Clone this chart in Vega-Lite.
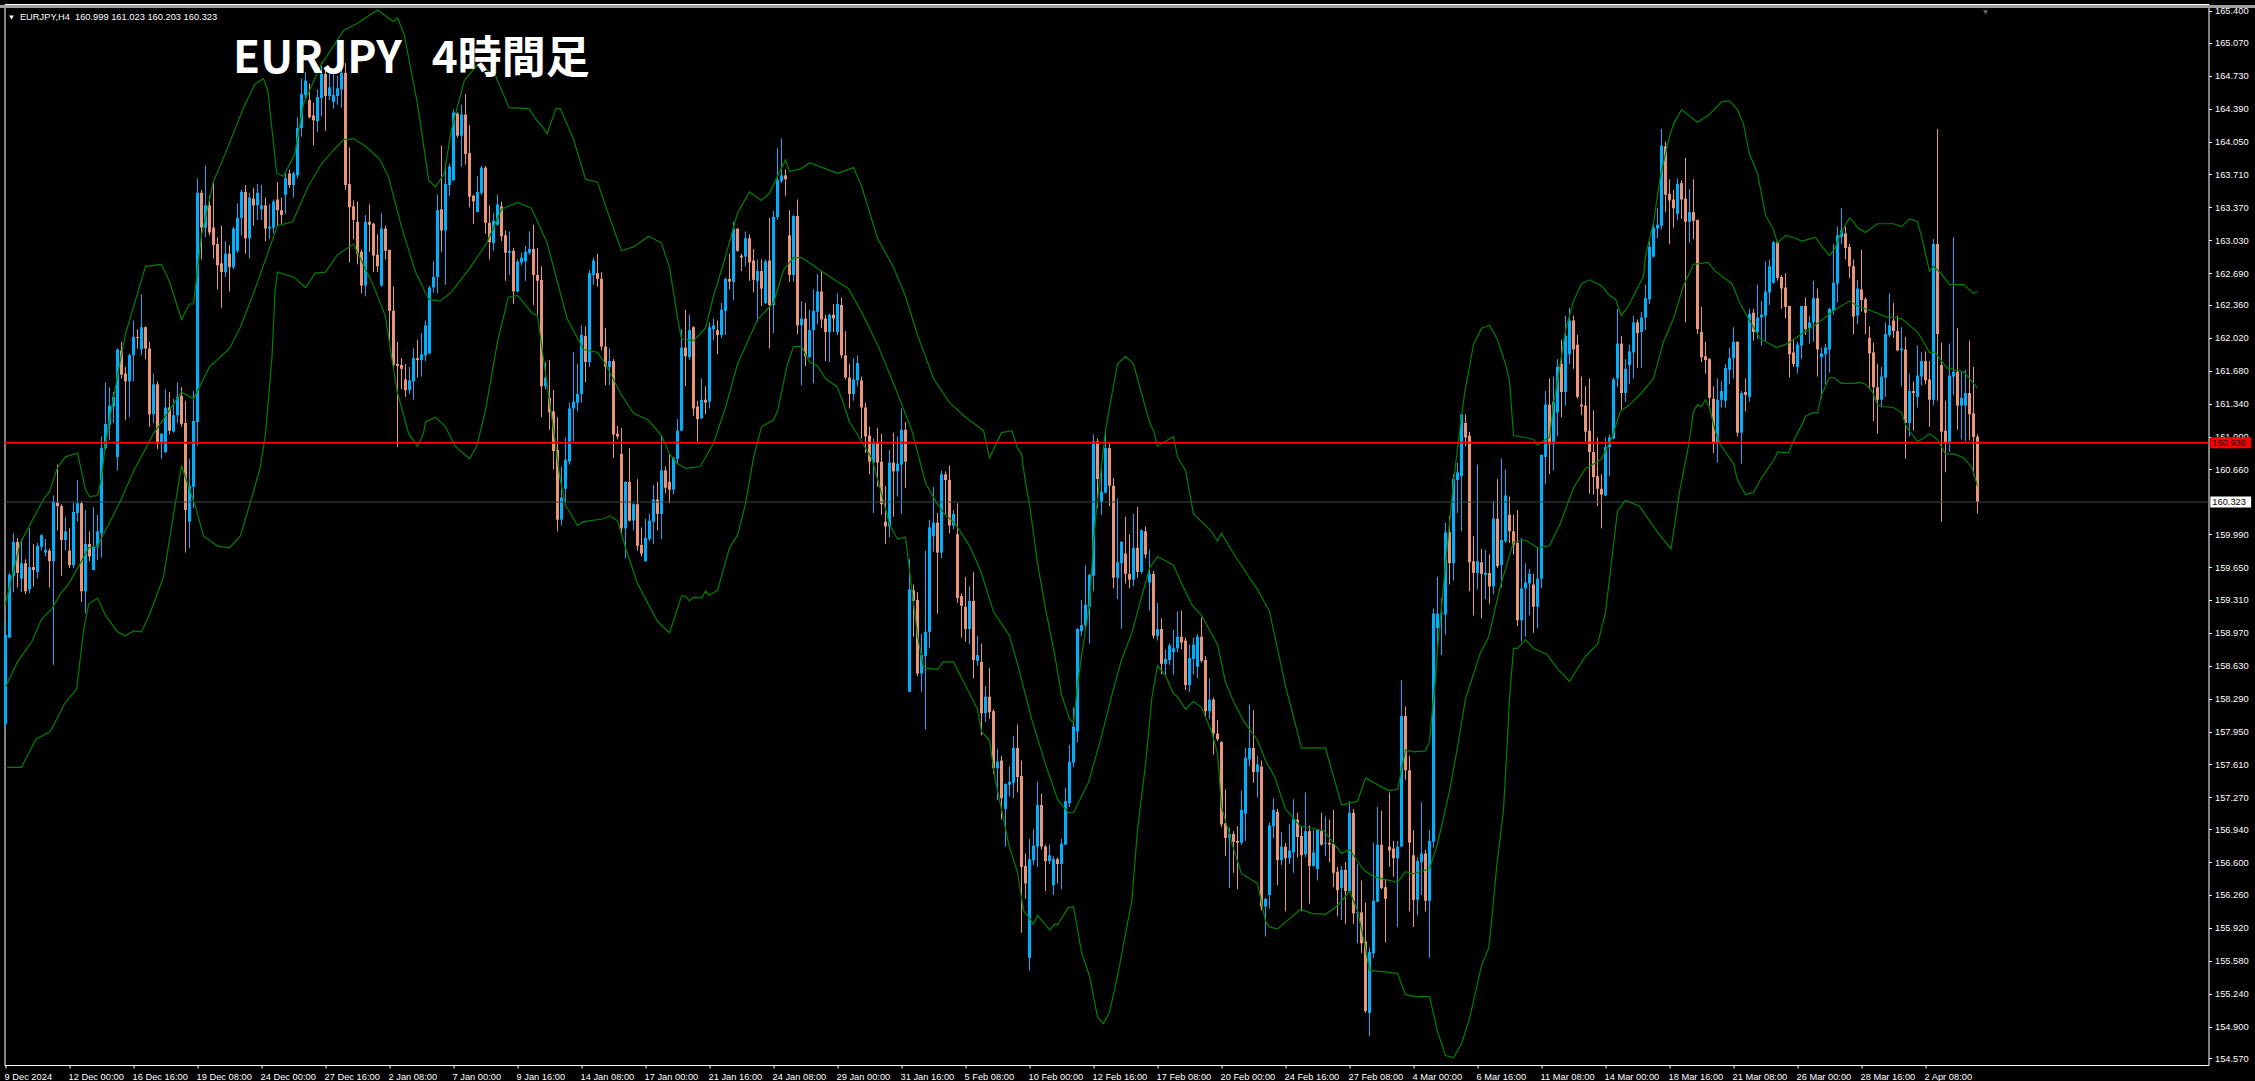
{"$schema":"https://vega.github.io/schema/vega-lite/v6.json","autosize":"none","width":2204,"height":1061,"padding":{"left":4.5,"top":4,"right":46.5,"bottom":16},"background":"#000000","config":{"view":{"stroke":"#ffffff","strokeWidth":1},"axis":{"grid":false,"domain":false,"title":null,"labelColor":"#ffffff","tickColor":"#ffffff","tickSize":3,"labelFont":"Liberation Sans","labelFontSize":9.3,"labelOverlap":false,"labelBound":false,"labelFlush":false}},
"datasets":{"candles":[
{"n":0,"o":158.03,"h":159.09,"l":158.0,"c":158.95},{"n":1,"o":158.92,"h":159.59,"l":158.92,"c":159.57},{"n":2,"o":159.56,"h":160.0,"l":159.39,"c":159.91},{"n":3,"o":159.91,"h":159.95,"l":159.44,"c":159.59},{"n":4,"o":159.53,"h":159.94,"l":159.39,"c":159.69},{"n":5,"o":159.69,"h":159.73,"l":159.37,"c":159.4},{"n":6,"o":159.42,"h":160.05,"l":159.38,"c":159.65},{"n":7,"o":159.65,"h":159.89,"l":159.45,"c":159.62},{"n":8,"o":159.6,"h":159.9,"l":159.53,"c":159.87},{"n":9,"o":159.86,"h":159.99,"l":159.82,"c":159.98},
{"n":10,"o":159.8,"h":159.94,"l":159.76,"c":159.83},{"n":11,"o":159.82,"h":159.84,"l":159.44,"c":159.71},{"n":12,"o":159.71,"h":160.39,"l":158.64,"c":160.33},{"n":13,"o":160.32,"h":160.71,"l":160.03,"c":160.28},{"n":14,"o":160.28,"h":160.3,"l":159.56,"c":159.93},{"n":15,"o":159.93,"h":160.17,"l":159.82,"c":160.02},{"n":16,"o":159.82,"h":160.05,"l":159.64,"c":159.67},{"n":17,"o":159.67,"h":160.32,"l":159.64,"c":160.22},{"n":18,"o":160.21,"h":160.55,"l":160.12,"c":160.31},{"n":19,"o":160.31,"h":160.33,"l":159.29,"c":159.4},
{"n":20,"o":159.4,"h":160.24,"l":159.17,"c":159.89},{"n":21,"o":159.89,"h":160.02,"l":159.71,"c":159.76},{"n":22,"o":159.62,"h":160.27,"l":159.62,"c":159.86},{"n":23,"o":159.86,"h":160.19,"l":159.72,"c":160.02},{"n":24,"o":160.0,"h":161.0,"l":159.75,"c":160.88},{"n":25,"o":160.88,"h":161.56,"l":160.86,"c":161.13},{"n":26,"o":161.12,"h":161.51,"l":160.96,"c":161.32},{"n":27,"o":161.31,"h":161.46,"l":161.14,"c":161.41},{"n":28,"o":160.79,"h":161.91,"l":160.65,"c":161.9},{"n":29,"o":161.89,"h":161.98,"l":161.6,"c":161.64},
{"n":30,"o":161.65,"h":161.72,"l":161.17,"c":161.57},{"n":31,"o":161.57,"h":161.86,"l":161.2,"c":161.84},{"n":32,"o":161.84,"h":162.2,"l":161.57,"c":162.03},{"n":33,"o":162.03,"h":162.11,"l":161.91,"c":162.02},{"n":34,"o":161.9,"h":162.47,"l":161.84,"c":162.13},{"n":35,"o":162.13,"h":162.14,"l":161.8,"c":161.91},{"n":36,"o":161.91,"h":161.98,"l":161.1,"c":161.23},{"n":37,"o":161.23,"h":161.65,"l":161.14,"c":161.54},{"n":38,"o":161.54,"h":161.57,"l":160.87,"c":160.93},{"n":39,"o":160.93,"h":161.03,"l":160.77,"c":161.03},
{"n":40,"o":160.84,"h":161.49,"l":160.83,"c":161.3},{"n":41,"o":161.3,"h":161.46,"l":161.02,"c":161.06},{"n":42,"o":161.05,"h":161.39,"l":161.04,"c":161.22},{"n":43,"o":161.22,"h":161.56,"l":161.14,"c":161.41},{"n":44,"o":161.42,"h":161.51,"l":161.1,"c":161.13},{"n":45,"o":161.14,"h":161.37,"l":159.8,"c":160.24},{"n":46,"o":160.12,"h":160.77,"l":159.85,"c":160.49},{"n":47,"o":160.48,"h":161.47,"l":160.26,"c":161.16},{"n":48,"o":161.15,"h":163.67,"l":160.91,"c":163.52},{"n":49,"o":163.52,"h":163.55,"l":162.83,"c":163.16},
{"n":50,"o":163.16,"h":163.8,"l":163.06,"c":163.39},{"n":51,"o":163.39,"h":163.49,"l":163.08,"c":163.11},{"n":52,"o":163.16,"h":163.63,"l":162.84,"c":162.98},{"n":53,"o":162.99,"h":163.06,"l":162.52,"c":162.77},{"n":54,"o":162.79,"h":163.18,"l":162.33,"c":162.7},{"n":55,"o":162.7,"h":163.02,"l":162.65,"c":162.89},{"n":56,"o":162.89,"h":162.98,"l":162.5,"c":162.75},{"n":57,"o":162.75,"h":163.17,"l":162.73,"c":163.15},{"n":58,"o":162.92,"h":163.41,"l":162.9,"c":163.26},{"n":59,"o":163.26,"h":163.55,"l":163.08,"c":163.53},
{"n":60,"o":163.53,"h":163.6,"l":162.89,"c":163.05},{"n":61,"o":163.05,"h":163.52,"l":162.84,"c":163.47},{"n":62,"o":163.46,"h":163.57,"l":163.18,"c":163.39},{"n":63,"o":163.39,"h":163.61,"l":163.24,"c":163.52},{"n":64,"o":163.35,"h":163.6,"l":163.24,"c":163.39},{"n":65,"o":163.39,"h":163.47,"l":163.02,"c":163.15},{"n":66,"o":163.15,"h":163.4,"l":163.04,"c":163.17},{"n":67,"o":163.16,"h":163.45,"l":163.1,"c":163.43},{"n":68,"o":163.45,"h":163.63,"l":163.17,"c":163.34},{"n":69,"o":163.34,"h":163.47,"l":163.2,"c":163.29},
{"n":70,"o":163.5,"h":163.73,"l":163.3,"c":163.67},{"n":71,"o":163.72,"h":163.76,"l":163.57,"c":163.6},{"n":72,"o":163.6,"h":163.74,"l":163.47,"c":163.72},{"n":73,"o":163.7,"h":164.3,"l":163.67,"c":164.19},{"n":74,"o":164.19,"h":164.7,"l":164.1,"c":164.54},{"n":75,"o":164.53,"h":164.77,"l":164.49,"c":164.68},{"n":76,"o":164.48,"h":164.65,"l":164.29,"c":164.3},{"n":77,"o":164.32,"h":164.45,"l":164.01,"c":164.27},{"n":78,"o":164.26,"h":164.59,"l":164.15,"c":164.51},{"n":79,"o":164.5,"h":164.87,"l":164.31,"c":164.75},
{"n":80,"o":164.75,"h":164.82,"l":164.16,"c":164.52},{"n":81,"o":164.52,"h":164.77,"l":164.48,"c":164.61},{"n":82,"o":164.46,"h":164.75,"l":164.39,"c":164.53},{"n":83,"o":164.52,"h":164.73,"l":164.43,"c":164.6},{"n":84,"o":164.59,"h":164.8,"l":164.4,"c":164.76},{"n":85,"o":164.76,"h":164.86,"l":163.55,"c":163.6},{"n":86,"o":163.61,"h":163.99,"l":162.8,"c":163.37},{"n":87,"o":163.38,"h":163.44,"l":163.04,"c":163.24},{"n":88,"o":163.22,"h":163.43,"l":162.78,"c":162.89},{"n":89,"o":162.91,"h":162.93,"l":162.48,"c":162.56},
{"n":90,"o":162.56,"h":163.29,"l":162.45,"c":163.22},{"n":91,"o":163.22,"h":163.4,"l":162.91,"c":163.19},{"n":92,"o":163.2,"h":163.21,"l":162.7,"c":162.87},{"n":93,"o":162.88,"h":163.09,"l":162.7,"c":162.76},{"n":94,"o":162.56,"h":163.31,"l":162.55,"c":163.15},{"n":95,"o":163.15,"h":163.18,"l":162.83,"c":162.92},{"n":96,"o":162.93,"h":162.93,"l":161.95,"c":162.3},{"n":97,"o":162.3,"h":162.55,"l":161.68,"c":161.74},{"n":98,"o":161.75,"h":161.98,"l":160.89,"c":161.73},{"n":99,"o":161.74,"h":161.81,"l":161.49,"c":161.7},
{"n":100,"o":161.59,"h":161.75,"l":161.41,"c":161.48},{"n":101,"o":161.48,"h":161.72,"l":161.44,"c":161.58},{"n":102,"o":161.57,"h":161.91,"l":161.38,"c":161.81},{"n":103,"o":161.81,"h":162.0,"l":161.61,"c":161.79},{"n":104,"o":161.79,"h":162.07,"l":161.62,"c":161.85},{"n":105,"o":161.84,"h":162.2,"l":161.78,"c":162.15},{"n":106,"o":161.86,"h":162.56,"l":161.85,"c":162.54},{"n":107,"o":162.54,"h":162.81,"l":162.49,"c":162.65},{"n":108,"o":162.65,"h":163.5,"l":162.48,"c":163.34},{"n":109,"o":163.35,"h":164.01,"l":162.91,"c":163.13},
{"n":110,"o":163.13,"h":163.83,"l":162.57,"c":163.61},{"n":111,"o":163.6,"h":163.82,"l":163.49,"c":163.79},{"n":112,"o":163.65,"h":164.38,"l":163.64,"c":164.35},{"n":113,"o":164.34,"h":164.35,"l":164.09,"c":164.11},{"n":114,"o":164.11,"h":164.43,"l":163.79,"c":164.33},{"n":115,"o":164.33,"h":164.54,"l":163.81,"c":163.92},{"n":116,"o":163.93,"h":164.22,"l":163.37,"c":163.48},{"n":117,"o":163.49,"h":163.5,"l":163.2,"c":163.43},{"n":118,"o":163.32,"h":163.69,"l":163.32,"c":163.53},{"n":119,"o":163.52,"h":163.8,"l":163.5,"c":163.78},
{"n":120,"o":163.78,"h":163.8,"l":163.1,"c":163.21},{"n":121,"o":163.21,"h":163.39,"l":162.83,"c":163.01},{"n":122,"o":163.0,"h":163.31,"l":162.92,"c":163.23},{"n":123,"o":163.19,"h":163.5,"l":163.18,"c":163.4},{"n":124,"o":163.38,"h":163.43,"l":163.02,"c":163.07},{"n":125,"o":163.08,"h":163.13,"l":162.61,"c":162.9},{"n":126,"o":162.9,"h":163.12,"l":162.67,"c":162.92},{"n":127,"o":162.92,"h":162.95,"l":162.37,"c":162.5},{"n":128,"o":162.5,"h":162.83,"l":162.49,"c":162.81},{"n":129,"o":162.8,"h":162.9,"l":162.77,"c":162.85},
{"n":130,"o":162.81,"h":162.97,"l":162.61,"c":162.91},{"n":131,"o":162.9,"h":163.12,"l":162.88,"c":162.94},{"n":132,"o":162.94,"h":163.19,"l":162.36,"c":162.67},{"n":133,"o":162.67,"h":162.95,"l":162.26,"c":162.61},{"n":134,"o":162.62,"h":162.76,"l":161.2,"c":161.52},{"n":135,"o":161.52,"h":161.77,"l":161.49,"c":161.61},{"n":136,"o":161.4,"h":161.79,"l":161.07,"c":161.25},{"n":137,"o":161.26,"h":161.48,"l":160.66,"c":160.85},{"n":138,"o":160.86,"h":161.2,"l":160.02,"c":160.14},{"n":139,"o":160.14,"h":160.69,"l":160.08,"c":160.37},
{"n":140,"o":160.46,"h":160.99,"l":160.32,"c":160.76},{"n":141,"o":160.74,"h":161.35,"l":160.71,"c":161.29},{"n":142,"o":161.29,"h":161.87,"l":160.95,"c":161.36},{"n":143,"o":161.35,"h":161.75,"l":161.26,"c":161.44},{"n":144,"o":161.44,"h":162.15,"l":161.35,"c":162.05},{"n":145,"o":162.04,"h":162.14,"l":161.56,"c":161.77},{"n":146,"o":161.77,"h":162.72,"l":161.72,"c":162.69},{"n":147,"o":162.67,"h":162.85,"l":162.57,"c":162.82},{"n":148,"o":162.69,"h":162.89,"l":162.55,"c":162.63},{"n":149,"o":162.63,"h":162.7,"l":161.89,"c":161.93},
{"n":150,"o":161.93,"h":162.12,"l":161.53,"c":161.72},{"n":151,"o":161.72,"h":161.91,"l":161.53,"c":161.78},{"n":152,"o":161.78,"h":161.8,"l":160.78,"c":161.02},{"n":153,"o":161.03,"h":161.11,"l":160.97,"c":161.0},{"n":154,"o":160.82,"h":161.09,"l":159.99,"c":160.05},{"n":155,"o":160.05,"h":160.54,"l":159.74,"c":160.53},{"n":156,"o":160.53,"h":160.88,"l":160.12,"c":160.13},{"n":157,"o":160.13,"h":160.31,"l":160.03,"c":160.3},{"n":158,"o":160.3,"h":160.56,"l":159.82,"c":159.87},{"n":159,"o":159.88,"h":160.06,"l":159.76,"c":159.79},
{"n":160,"o":159.71,"h":160.15,"l":159.71,"c":159.95},{"n":161,"o":159.94,"h":160.2,"l":159.92,"c":160.13},{"n":162,"o":160.12,"h":160.5,"l":159.89,"c":160.35},{"n":163,"o":160.35,"h":160.53,"l":160.03,"c":160.2},{"n":164,"o":160.2,"h":161.01,"l":159.94,"c":160.65},{"n":165,"o":160.65,"h":160.69,"l":160.41,"c":160.47},{"n":166,"o":160.53,"h":160.82,"l":160.31,"c":160.45},{"n":167,"o":160.45,"h":160.79,"l":160.4,"c":160.78},{"n":168,"o":160.77,"h":161.18,"l":160.71,"c":161.06},{"n":169,"o":161.06,"h":162.11,"l":161.06,"c":161.92},
{"n":170,"o":161.92,"h":162.31,"l":161.52,"c":161.83},{"n":171,"o":161.82,"h":162.26,"l":161.79,"c":162.1},{"n":172,"o":162.13,"h":162.14,"l":161.21,"c":161.29},{"n":173,"o":161.31,"h":161.37,"l":160.95,"c":161.18},{"n":174,"o":161.19,"h":161.6,"l":161.18,"c":161.38},{"n":175,"o":161.38,"h":161.52,"l":161.23,"c":161.35},{"n":176,"o":161.36,"h":162.18,"l":161.29,"c":162.13},{"n":177,"o":162.11,"h":162.22,"l":162.0,"c":162.15},{"n":178,"o":162.1,"h":162.2,"l":161.85,"c":162.05},{"n":179,"o":162.05,"h":162.38,"l":162.02,"c":162.31},
{"n":180,"o":162.3,"h":162.64,"l":162.05,"c":162.63},{"n":181,"o":162.63,"h":162.89,"l":162.52,"c":162.6},{"n":182,"o":162.6,"h":163.22,"l":162.41,"c":163.15},{"n":183,"o":163.15,"h":163.15,"l":162.91,"c":162.92},{"n":184,"o":162.87,"h":162.89,"l":162.71,"c":162.85},{"n":185,"o":162.86,"h":163.12,"l":162.76,"c":163.05},{"n":186,"o":163.05,"h":163.09,"l":162.61,"c":162.8},{"n":187,"o":162.82,"h":162.94,"l":162.49,"c":162.62},{"n":188,"o":162.61,"h":162.83,"l":162.19,"c":162.71},{"n":189,"o":162.71,"h":162.83,"l":162.35,"c":162.53},
{"n":190,"o":162.38,"h":162.83,"l":162.37,"c":162.81},{"n":191,"o":162.82,"h":163.26,"l":161.91,"c":162.36},{"n":192,"o":162.36,"h":163.33,"l":162.07,"c":163.27},{"n":193,"o":163.27,"h":163.98,"l":163.24,"c":163.65},{"n":194,"o":163.64,"h":164.08,"l":163.62,"c":163.7},{"n":195,"o":163.7,"h":163.76,"l":163.49,"c":163.66},{"n":196,"o":163.08,"h":163.34,"l":162.6,"c":162.67},{"n":197,"o":162.67,"h":163.29,"l":162.6,"c":163.28},{"n":198,"o":163.28,"h":163.45,"l":162.06,"c":162.15},{"n":199,"o":162.15,"h":162.4,"l":161.53,"c":162.22},
{"n":200,"o":162.22,"h":162.38,"l":161.73,"c":161.83},{"n":201,"o":161.82,"h":162.31,"l":161.81,"c":162.1},{"n":202,"o":162.1,"h":162.52,"l":161.55,"c":162.3},{"n":203,"o":162.29,"h":162.68,"l":162.16,"c":162.5},{"n":204,"o":162.5,"h":162.71,"l":162.12,"c":162.21},{"n":205,"o":162.22,"h":162.26,"l":161.78,"c":162.08},{"n":206,"o":162.08,"h":162.27,"l":161.77,"c":162.26},{"n":207,"o":162.26,"h":162.37,"l":162.08,"c":162.22},{"n":208,"o":162.08,"h":162.48,"l":162.05,"c":162.37},{"n":209,"o":162.36,"h":162.44,"l":161.81,"c":161.84},
{"n":210,"o":161.84,"h":162.09,"l":161.59,"c":161.61},{"n":211,"o":161.61,"h":161.75,"l":161.29,"c":161.44},{"n":212,"o":161.44,"h":161.81,"l":161.37,"c":161.59},{"n":213,"o":161.58,"h":161.84,"l":161.52,"c":161.76},{"n":214,"o":161.58,"h":161.62,"l":160.98,"c":161.3},{"n":215,"o":161.3,"h":161.35,"l":160.83,"c":161.0},{"n":216,"o":161.01,"h":161.1,"l":160.61,"c":160.74},{"n":217,"o":160.73,"h":160.98,"l":160.21,"c":160.93},{"n":218,"o":160.93,"h":161.09,"l":160.48,"c":160.73},{"n":219,"o":160.74,"h":161.03,"l":160.19,"c":160.3},
{"n":220,"o":160.12,"h":160.49,"l":159.89,"c":160.07},{"n":221,"o":160.07,"h":160.86,"l":159.96,"c":160.73},{"n":222,"o":160.73,"h":161.04,"l":160.17,"c":160.64},{"n":223,"o":160.64,"h":161.0,"l":160.38,"c":160.72},{"n":224,"o":160.71,"h":161.29,"l":160.2,"c":161.07},{"n":225,"o":161.07,"h":161.15,"l":160.47,"c":160.74},{"n":226,"o":158.36,"h":159.73,"l":158.36,"c":159.42},{"n":227,"o":159.41,"h":159.47,"l":158.93,"c":159.3},{"n":228,"o":159.31,"h":159.39,"l":158.52,"c":158.55},{"n":229,"o":158.55,"h":158.96,"l":158.36,"c":158.74},
{"n":230,"o":158.73,"h":159.82,"l":157.97,"c":158.98},{"n":231,"o":158.98,"h":160.14,"l":158.81,"c":160.06},{"n":232,"o":159.97,"h":160.48,"l":159.81,"c":160.11},{"n":233,"o":160.11,"h":160.21,"l":159.17,"c":159.8},{"n":234,"o":159.8,"h":160.65,"l":159.74,"c":160.61},{"n":235,"o":160.61,"h":160.64,"l":160.2,"c":160.55},{"n":236,"o":160.55,"h":160.7,"l":160.0,"c":160.08},{"n":237,"o":160.08,"h":160.24,"l":160.04,"c":160.2},{"n":238,"o":159.99,"h":160.31,"l":159.28,"c":159.33},{"n":239,"o":159.35,"h":159.38,"l":158.92,"c":159.25},
{"n":240,"o":159.24,"h":159.55,"l":158.88,"c":159.01},{"n":241,"o":159.01,"h":159.45,"l":158.85,"c":159.3},{"n":242,"o":159.3,"h":159.6,"l":158.5,"c":158.69},{"n":243,"o":158.68,"h":158.94,"l":158.63,"c":158.74},{"n":244,"o":158.67,"h":158.86,"l":157.91,"c":158.14},{"n":245,"o":158.14,"h":158.42,"l":158.05,"c":158.31},{"n":246,"o":158.31,"h":158.61,"l":158.08,"c":158.15},{"n":247,"o":158.16,"h":158.18,"l":157.51,"c":157.57},{"n":248,"o":157.57,"h":157.77,"l":157.24,"c":157.64},{"n":249,"o":157.65,"h":157.7,"l":157.04,"c":157.26},
{"n":250,"o":157.15,"h":157.41,"l":156.76,"c":157.41},{"n":251,"o":157.4,"h":157.59,"l":157.28,"c":157.43},{"n":252,"o":157.42,"h":157.9,"l":157.26,"c":157.78},{"n":253,"o":157.78,"h":158.02,"l":157.32,"c":157.48},{"n":254,"o":157.49,"h":157.65,"l":155.87,"c":156.55},{"n":255,"o":156.56,"h":156.69,"l":156.22,"c":156.38},{"n":256,"o":155.61,"h":156.84,"l":155.48,"c":156.63},{"n":257,"o":156.62,"h":156.94,"l":156.57,"c":156.77},{"n":258,"o":156.76,"h":157.43,"l":156.55,"c":157.19},{"n":259,"o":157.19,"h":157.31,"l":156.73,"c":156.76},
{"n":260,"o":156.76,"h":156.78,"l":156.3,"c":156.61},{"n":261,"o":156.61,"h":156.78,"l":156.58,"c":156.67},{"n":262,"o":156.36,"h":156.66,"l":156.26,"c":156.63},{"n":263,"o":156.63,"h":156.65,"l":156.38,"c":156.58},{"n":264,"o":156.58,"h":156.84,"l":156.32,"c":156.79},{"n":265,"o":156.78,"h":157.37,"l":156.78,"c":157.23},{"n":266,"o":157.21,"h":157.81,"l":157.17,"c":157.64},{"n":267,"o":157.63,"h":158.2,"l":157.58,"c":158.0},{"n":268,"o":157.95,"h":159.02,"l":157.84,"c":159.01},{"n":269,"o":158.99,"h":159.31,"l":158.94,"c":159.05},
{"n":270,"o":159.05,"h":159.67,"l":159.0,"c":159.26},{"n":271,"o":159.24,"h":159.58,"l":158.86,"c":159.57},{"n":272,"o":159.56,"h":161.02,"l":159.4,"c":160.95},{"n":273,"o":160.95,"h":160.98,"l":160.26,"c":160.56},{"n":274,"o":160.32,"h":160.68,"l":160.19,"c":160.43},{"n":275,"o":160.42,"h":161.06,"l":160.41,"c":160.88},{"n":276,"o":160.88,"h":160.93,"l":160.28,"c":160.49},{"n":277,"o":160.49,"h":160.57,"l":159.43,"c":159.54},{"n":278,"o":159.54,"h":160.36,"l":159.32,"c":159.7},{"n":279,"o":159.69,"h":159.92,"l":159.01,"c":159.91},
{"n":280,"o":159.79,"h":160.17,"l":159.48,"c":159.58},{"n":281,"o":159.58,"h":159.99,"l":159.43,"c":159.52},{"n":282,"o":159.52,"h":160.2,"l":159.45,"c":159.85},{"n":283,"o":159.85,"h":160.27,"l":159.54,"c":159.6},{"n":284,"o":159.6,"h":160.04,"l":159.58,"c":160.03},{"n":285,"o":160.02,"h":160.07,"l":159.74,"c":159.78},{"n":286,"o":159.49,"h":159.83,"l":159.2,"c":159.58},{"n":287,"o":159.58,"h":159.61,"l":158.91,"c":158.94},{"n":288,"o":158.94,"h":159.28,"l":158.89,"c":159.01},{"n":289,"o":159.01,"h":159.12,"l":158.54,"c":158.65},
{"n":290,"o":158.65,"h":158.8,"l":158.53,"c":158.7},{"n":291,"o":158.69,"h":158.86,"l":158.64,"c":158.84},{"n":292,"o":158.77,"h":159.0,"l":158.54,"c":158.81},{"n":293,"o":158.81,"h":159.19,"l":158.77,"c":158.93},{"n":294,"o":158.93,"h":159.2,"l":158.8,"c":158.87},{"n":295,"o":158.89,"h":158.92,"l":158.38,"c":158.43},{"n":296,"o":158.43,"h":158.85,"l":158.36,"c":158.71},{"n":297,"o":158.7,"h":158.92,"l":158.54,"c":158.85},{"n":298,"o":158.62,"h":158.96,"l":158.5,"c":158.93},{"n":299,"o":158.93,"h":159.13,"l":158.66,"c":158.68},
{"n":300,"o":158.69,"h":158.73,"l":158.11,"c":158.16},{"n":301,"o":158.16,"h":158.5,"l":158.08,"c":158.28},{"n":302,"o":158.28,"h":158.3,"l":157.71,"c":157.93},{"n":303,"o":157.93,"h":158.07,"l":157.85,"c":157.87},{"n":304,"o":157.84,"h":157.85,"l":156.96,"c":156.99},{"n":305,"o":157.0,"h":157.35,"l":156.66,"c":156.85},{"n":306,"o":156.85,"h":156.96,"l":156.33,"c":156.89},{"n":307,"o":156.89,"h":156.92,"l":156.49,"c":156.81},{"n":308,"o":156.82,"h":156.97,"l":156.32,"c":156.8},{"n":309,"o":156.8,"h":157.34,"l":156.78,"c":157.14},
{"n":310,"o":157.1,"h":157.78,"l":156.82,"c":157.68},{"n":311,"o":157.66,"h":158.23,"l":157.59,"c":157.78},{"n":312,"o":157.78,"h":158.17,"l":157.42,"c":157.53},{"n":313,"o":157.53,"h":157.7,"l":157.27,"c":157.61},{"n":314,"o":157.59,"h":157.65,"l":156.1,"c":156.14},{"n":315,"o":156.14,"h":156.23,"l":155.83,"c":156.22},{"n":316,"o":156.26,"h":157.01,"l":156.12,"c":156.98},{"n":317,"o":156.97,"h":157.26,"l":156.85,"c":157.14},{"n":318,"o":157.12,"h":157.15,"l":156.36,"c":156.62},{"n":319,"o":156.62,"h":156.91,"l":156.57,"c":156.76},
{"n":320,"o":156.76,"h":156.8,"l":156.09,"c":156.64},{"n":321,"o":156.64,"h":156.99,"l":156.58,"c":156.72},{"n":322,"o":156.7,"h":157.25,"l":156.49,"c":157.05},{"n":323,"o":157.04,"h":157.11,"l":156.65,"c":156.86},{"n":324,"o":156.87,"h":156.97,"l":156.09,"c":156.67},{"n":325,"o":156.68,"h":157.32,"l":156.65,"c":156.92},{"n":326,"o":156.92,"h":156.98,"l":156.17,"c":156.56},{"n":327,"o":156.56,"h":156.93,"l":156.55,"c":156.7},{"n":328,"o":156.53,"h":156.94,"l":156.41,"c":156.93},{"n":329,"o":156.92,"h":157.11,"l":156.77,"c":156.78},
{"n":330,"o":156.79,"h":157.07,"l":156.66,"c":156.8},{"n":331,"o":156.8,"h":157.04,"l":156.6,"c":156.78},{"n":332,"o":156.79,"h":157.14,"l":156.34,"c":156.49},{"n":333,"o":156.5,"h":156.55,"l":156.04,"c":156.31},{"n":334,"o":156.33,"h":156.56,"l":156.0,"c":156.52},{"n":335,"o":156.52,"h":156.6,"l":155.96,"c":156.3},{"n":336,"o":156.3,"h":157.23,"l":156.3,"c":157.11},{"n":337,"o":157.11,"h":157.15,"l":155.96,"c":156.07},{"n":338,"o":156.07,"h":156.58,"l":155.76,"c":156.08},{"n":339,"o":156.08,"h":156.41,"l":155.66,"c":155.76},
{"n":340,"o":155.78,"h":156.18,"l":155.04,"c":155.06},{"n":341,"o":155.04,"h":155.72,"l":154.8,"c":155.67},{"n":342,"o":155.66,"h":156.8,"l":155.61,"c":156.2},{"n":343,"o":156.19,"h":157.17,"l":156.19,"c":156.78},{"n":344,"o":156.78,"h":157.13,"l":156.32,"c":156.33},{"n":345,"o":156.34,"h":156.42,"l":155.77,"c":156.22},{"n":346,"o":156.76,"h":157.32,"l":156.55,"c":156.72},{"n":347,"o":156.74,"h":156.82,"l":156.45,"c":156.64},{"n":348,"o":156.64,"h":156.82,"l":155.93,"c":156.76},{"n":349,"o":156.76,"h":158.48,"l":156.76,"c":158.11},
{"n":350,"o":158.11,"h":158.21,"l":157.45,"c":157.55},{"n":351,"o":157.55,"h":157.7,"l":156.09,"c":156.8},{"n":352,"o":156.67,"h":156.93,"l":155.93,"c":156.21},{"n":353,"o":156.21,"h":156.65,"l":156.05,"c":156.61},{"n":354,"o":156.6,"h":157.22,"l":156.26,"c":156.69},{"n":355,"o":156.69,"h":156.73,"l":156.09,"c":156.2},{"n":356,"o":156.2,"h":156.93,"l":155.61,"c":156.82},{"n":357,"o":156.81,"h":159.22,"l":156.75,"c":159.17},{"n":358,"o":159.02,"h":159.55,"l":158.78,"c":159.17},{"n":359,"o":159.16,"h":159.33,"l":158.74,"c":159.17},
{"n":360,"o":159.16,"h":160.11,"l":158.95,"c":160.01},{"n":361,"o":160.01,"h":160.18,"l":159.47,"c":159.69},{"n":362,"o":159.69,"h":160.61,"l":159.51,"c":160.56},{"n":363,"o":160.55,"h":160.73,"l":160.21,"c":160.63},{"n":364,"o":160.59,"h":161.23,"l":160.02,"c":161.23},{"n":365,"o":161.14,"h":161.23,"l":160.9,"c":160.99},{"n":366,"o":161.01,"h":161.05,"l":159.4,"c":159.7},{"n":367,"o":159.71,"h":159.97,"l":159.15,"c":159.59},{"n":368,"o":159.59,"h":160.71,"l":159.42,"c":159.71},{"n":369,"o":159.7,"h":159.84,"l":159.12,"c":159.58},
{"n":370,"o":159.57,"h":159.83,"l":159.32,"c":159.59},{"n":371,"o":159.59,"h":159.78,"l":159.27,"c":159.45},{"n":372,"o":159.45,"h":160.33,"l":159.37,"c":160.15},{"n":373,"o":160.15,"h":160.56,"l":159.64,"c":159.66},{"n":374,"o":159.67,"h":160.77,"l":159.44,"c":159.93},{"n":375,"o":159.92,"h":160.66,"l":159.9,"c":160.39},{"n":376,"o":160.19,"h":160.38,"l":159.9,"c":160.02},{"n":377,"o":160.02,"h":160.19,"l":159.78,"c":159.88},{"n":378,"o":159.9,"h":160.24,"l":159.04,"c":159.1},{"n":379,"o":159.1,"h":159.95,"l":158.88,"c":159.43},
{"n":380,"o":159.43,"h":159.69,"l":158.93,"c":159.49},{"n":381,"o":159.48,"h":159.63,"l":159.15,"c":159.58},{"n":382,"o":159.47,"h":159.58,"l":158.97,"c":159.24},{"n":383,"o":159.24,"h":159.85,"l":159.02,"c":159.53},{"n":384,"o":159.53,"h":160.81,"l":159.43,"c":160.81},{"n":385,"o":160.79,"h":161.47,"l":160.51,"c":161.33},{"n":386,"o":161.33,"h":161.6,"l":160.61,"c":160.92},{"n":387,"o":160.92,"h":161.62,"l":160.65,"c":161.36},{"n":388,"o":161.25,"h":161.8,"l":161.0,"c":161.72},{"n":389,"o":161.75,"h":162.0,"l":161.2,"c":161.46},
{"n":390,"o":161.46,"h":162.25,"l":161.32,"c":162.04},{"n":391,"o":161.85,"h":162.33,"l":161.75,"c":162.2},{"n":392,"o":162.2,"h":162.25,"l":161.7,"c":161.9},{"n":393,"o":161.95,"h":162.05,"l":161.39,"c":161.41},{"n":394,"o":161.33,"h":161.62,"l":161.22,"c":161.31},{"n":395,"o":161.32,"h":161.52,"l":160.95,"c":161.05},{"n":396,"o":161.06,"h":161.6,"l":160.41,"c":160.84},{"n":397,"o":160.84,"h":161.27,"l":160.4,"c":160.58},{"n":398,"o":160.59,"h":160.99,"l":160.28,"c":160.46},{"n":399,"o":160.46,"h":160.61,"l":160.05,"c":160.4},
{"n":400,"o":160.39,"h":160.99,"l":160.38,"c":160.89},{"n":401,"o":160.89,"h":161.02,"l":160.59,"c":160.99},{"n":402,"o":160.98,"h":161.61,"l":160.97,"c":161.59},{"n":403,"o":161.6,"h":162.32,"l":161.51,"c":161.96},{"n":404,"o":161.96,"h":162.04,"l":161.28,"c":161.45},{"n":405,"o":161.45,"h":161.8,"l":161.36,"c":161.7},{"n":406,"o":161.74,"h":161.95,"l":161.54,"c":161.88},{"n":407,"o":161.87,"h":162.25,"l":161.6,"c":162.18},{"n":408,"o":162.18,"h":162.21,"l":161.71,"c":162.07},{"n":409,"o":162.08,"h":162.29,"l":161.71,"c":162.23},
{"n":410,"o":162.23,"h":162.57,"l":162.1,"c":162.43},{"n":411,"o":162.42,"h":163.04,"l":162.37,"c":162.96},{"n":412,"o":162.86,"h":163.21,"l":162.85,"c":163.16},{"n":413,"o":163.15,"h":163.36,"l":163.05,"c":163.19},{"n":414,"o":163.18,"h":164.18,"l":163.14,"c":164.01},{"n":415,"o":164.0,"h":164.05,"l":163.32,"c":163.5},{"n":416,"o":163.51,"h":163.66,"l":162.99,"c":163.44},{"n":417,"o":163.45,"h":163.55,"l":163.16,"c":163.36},{"n":418,"o":163.3,"h":163.67,"l":163.24,"c":163.61},{"n":419,"o":163.62,"h":163.65,"l":163.25,"c":163.45},
{"n":420,"o":163.46,"h":163.88,"l":162.18,"c":163.22},{"n":421,"o":163.22,"h":163.56,"l":163.0,"c":163.32},{"n":422,"o":163.32,"h":163.66,"l":163.04,"c":163.23},{"n":423,"o":163.24,"h":163.24,"l":162.06,"c":162.11},{"n":424,"o":162.08,"h":162.34,"l":161.77,"c":161.82},{"n":425,"o":161.83,"h":161.98,"l":161.65,"c":161.79},{"n":426,"o":161.8,"h":161.81,"l":161.32,"c":161.4},{"n":427,"o":161.39,"h":161.52,"l":160.83,"c":160.94},{"n":428,"o":160.93,"h":161.6,"l":160.73,"c":161.38},{"n":429,"o":161.38,"h":161.57,"l":161.3,"c":161.47},
{"n":430,"o":161.37,"h":161.75,"l":161.3,"c":161.71},{"n":431,"o":161.69,"h":161.92,"l":161.54,"c":161.81},{"n":432,"o":161.81,"h":162.13,"l":161.6,"c":161.98},{"n":433,"o":161.98,"h":161.98,"l":161.0,"c":161.04},{"n":434,"o":161.04,"h":161.47,"l":160.72,"c":161.45},{"n":435,"o":161.46,"h":161.6,"l":161.26,"c":161.43},{"n":436,"o":161.41,"h":162.32,"l":161.36,"c":162.27},{"n":437,"o":162.28,"h":162.32,"l":161.99,"c":162.08},{"n":438,"o":162.08,"h":162.57,"l":162.01,"c":162.23},{"n":439,"o":162.23,"h":162.4,"l":161.94,"c":162.26},
{"n":440,"o":162.25,"h":162.81,"l":161.99,"c":162.5},{"n":441,"o":162.49,"h":162.83,"l":162.36,"c":162.76},{"n":442,"o":162.59,"h":163.02,"l":162.58,"c":163.01},{"n":443,"o":163.01,"h":163.02,"l":162.61,"c":162.64},{"n":444,"o":162.65,"h":162.67,"l":162.32,"c":162.53},{"n":445,"o":162.54,"h":162.69,"l":162.22,"c":162.34},{"n":446,"o":162.35,"h":162.35,"l":161.61,"c":161.85},{"n":447,"o":161.87,"h":162.01,"l":161.72,"c":161.75},{"n":448,"o":161.72,"h":161.98,"l":161.65,"c":161.95},{"n":449,"o":161.94,"h":162.35,"l":161.8,"c":162.35},
{"n":450,"o":162.35,"h":162.44,"l":162.05,"c":162.11},{"n":451,"o":162.12,"h":162.25,"l":161.96,"c":162.18},{"n":452,"o":162.18,"h":162.61,"l":161.98,"c":162.43},{"n":453,"o":162.43,"h":162.53,"l":161.62,"c":161.9},{"n":454,"o":161.82,"h":161.92,"l":161.4,"c":161.86},{"n":455,"o":161.85,"h":161.96,"l":161.54,"c":161.92},{"n":456,"o":161.9,"h":162.33,"l":161.66,"c":162.32},{"n":457,"o":162.3,"h":162.99,"l":162.26,"c":162.59},{"n":458,"o":162.58,"h":163.17,"l":162.39,"c":163.08},{"n":459,"o":163.06,"h":163.36,"l":162.99,"c":163.13},
{"n":460,"o":163.1,"h":163.17,"l":162.83,"c":162.95},{"n":461,"o":162.96,"h":162.99,"l":162.64,"c":162.76},{"n":462,"o":162.76,"h":162.83,"l":162.06,"c":162.24},{"n":463,"o":162.25,"h":162.62,"l":162.16,"c":162.53},{"n":464,"o":162.52,"h":162.93,"l":162.29,"c":162.41},{"n":465,"o":162.42,"h":162.44,"l":162.06,"c":162.28},{"n":466,"o":162.02,"h":162.14,"l":161.5,"c":161.86},{"n":467,"o":161.87,"h":161.97,"l":161.16,"c":161.51},{"n":468,"o":161.51,"h":161.75,"l":161.03,"c":161.38},{"n":469,"o":161.38,"h":161.72,"l":161.3,"c":161.62},
{"n":470,"o":161.61,"h":162.18,"l":161.41,"c":162.06},{"n":471,"o":162.05,"h":162.48,"l":162.03,"c":162.15},{"n":472,"o":162.2,"h":162.38,"l":162.02,"c":162.09},{"n":473,"o":162.09,"h":162.25,"l":161.88,"c":161.89},{"n":474,"o":161.89,"h":162.13,"l":161.52,"c":161.91},{"n":475,"o":161.9,"h":162.03,"l":160.77,"c":161.14},{"n":476,"o":161.14,"h":161.65,"l":161.0,"c":161.47},{"n":477,"o":161.47,"h":161.57,"l":161.06,"c":161.45},{"n":478,"o":161.41,"h":161.94,"l":161.3,"c":161.63},{"n":479,"o":161.62,"h":161.87,"l":161.53,"c":161.78},
{"n":480,"o":161.78,"h":161.88,"l":161.54,"c":161.58},{"n":481,"o":161.59,"h":161.78,"l":161.1,"c":161.38},{"n":482,"o":161.38,"h":163.04,"l":161.32,"c":162.99},{"n":483,"o":162.99,"h":164.18,"l":161.37,"c":162.06},{"n":484,"o":161.74,"h":161.97,"l":160.12,"c":161.05},{"n":485,"o":161.06,"h":161.37,"l":160.63,"c":160.93},{"n":486,"o":160.93,"h":161.96,"l":160.84,"c":161.63},{"n":487,"o":161.62,"h":163.06,"l":161.43,"c":161.67},{"n":488,"o":161.67,"h":162.12,"l":161.07,"c":161.32},{"n":489,"o":161.32,"h":161.67,"l":160.97,"c":161.4},
{"n":490,"o":161.32,"h":161.69,"l":160.95,"c":161.45},{"n":491,"o":161.45,"h":161.99,"l":160.96,"c":161.23},{"n":492,"o":161.24,"h":161.72,"l":160.6,"c":160.996},{"n":493,"o":160.999,"h":161.023,"l":160.203,"c":160.323}],
"upper":[{"n":0,"v":159.27},{"n":3.7,"v":159.9},{"n":9.5,"v":160.35},{"n":11,"v":160.43},{"n":13,"v":160.68},{"n":15,"v":160.79},{"n":18,"v":160.83},{"n":20,"v":160.45},{"n":21,"v":160.38},{"n":23,"v":160.39},{"n":24,"v":160.57},{"n":25,"v":160.93},{"n":28,"v":161.63},{"n":30,"v":162.06},{"n":34,"v":162.62},{"n":35,"v":162.76},{"n":39,"v":162.78},{"n":41,"v":162.6},{"n":44,"v":162.21},{"n":46,"v":162.37},{"n":47,"v":162.37},{"n":48,"v":162.73},{"n":49,"v":163.08},{"n":52,"v":163.64},{"n":55,"v":163.93},{"n":59.5,"v":164.4},{"n":62.3,"v":164.64},{"n":64.5,"v":164.7},{"n":65.6,"v":164.57},{"n":67.8,"v":163.72},{"n":69.5,"v":163.69},{"n":72.3,"v":163.92},{"n":74.5,"v":164.44},{"n":79,"v":164.85},{"n":84.6,"v":165.2},{"n":87.9,"v":165.27},{"n":93,"v":165.41},{"n":96.9,"v":165.29},{"n":98,"v":165.33},{"n":99.7,"v":165.15},{"n":103,"v":164.44},{"n":105.8,"v":163.65},{"n":107.5,"v":163.58},{"n":109.7,"v":163.72},{"n":111.4,"v":164.16},{"n":114.7,"v":164.68},{"n":118.1,"v":164.85},{"n":122.5,"v":164.73},{"n":125.9,"v":164.4},{"n":130.9,"v":164.39},{"n":132.6,"v":164.28},{"n":134.3,"v":164.2},{"n":135.4,"v":164.13},{"n":137.6,"v":164.39},{"n":138.7,"v":164.39},{"n":142.1,"v":164.06},{"n":145,"v":163.66},{"n":148,"v":163.63},{"n":150.3,"v":163.35},{"n":154,"v":162.92},{"n":157,"v":162.96},{"n":160.8,"v":163.07},{"n":164,"v":163.0},{"n":166,"v":162.75},{"n":168,"v":162.23},{"n":169,"v":162.01},{"n":172,"v":161.99},{"n":175,"v":162.12},{"n":177,"v":162.45},{"n":180,"v":162.86},{"n":183,"v":163.31},{"n":186,"v":163.53},{"n":189,"v":163.44},{"n":191,"v":163.52},{"n":195,"v":163.86},{"n":196,"v":163.74},{"n":199,"v":163.77},{"n":201,"v":163.83},{"n":208,"v":163.72},{"n":212,"v":163.78},{"n":214,"v":163.59},{"n":218,"v":163.05},{"n":222,"v":162.75},{"n":225,"v":162.45},{"n":228,"v":162.05},{"n":232,"v":161.6},{"n":236,"v":161.35},{"n":240,"v":161.2},{"n":244.5,"v":161.06},{"n":246,"v":160.78},{"n":249,"v":161.04},{"n":251.6,"v":161.06},{"n":253,"v":160.88},{"n":254,"v":160.82},{"n":255,"v":160.52},{"n":256,"v":160.3},{"n":258,"v":159.69},{"n":260,"v":159.22},{"n":262.4,"v":158.72},{"n":264,"v":158.33},{"n":266,"v":158.08},{"n":267,"v":158.04},{"n":268,"v":158.43},{"n":269.5,"v":158.87},{"n":271,"v":159.26},{"n":272,"v":159.94},{"n":273,"v":160.34},{"n":274.5,"v":160.88},{"n":275,"v":161.06},{"n":276,"v":161.3},{"n":278,"v":161.75},{"n":280,"v":161.83},{"n":282,"v":161.75},{"n":284,"v":161.45},{"n":286,"v":161.15},{"n":287,"v":161.06},{"n":288,"v":160.9},{"n":292,"v":161.0},{"n":293,"v":160.79},{"n":295,"v":160.65},{"n":297,"v":160.2},{"n":301.5,"v":160.02},{"n":303,"v":159.92},{"n":304,"v":160.0},{"n":307,"v":159.79},{"n":311,"v":159.54},{"n":313,"v":159.42},{"n":316,"v":159.19},{"n":320,"v":158.42},{"n":324,"v":157.78},{"n":330,"v":157.78},{"n":334,"v":157.19},{"n":338,"v":157.23},{"n":340,"v":157.47},{"n":345.7,"v":157.34},{"n":348,"v":157.35},{"n":350,"v":157.76},{"n":352,"v":157.74},{"n":355,"v":157.75},{"n":356,"v":157.84},{"n":356.5,"v":158.08},{"n":357.5,"v":158.49},{"n":358,"v":158.8},{"n":360,"v":159.68},{"n":362,"v":160.53},{"n":364,"v":161.22},{"n":365,"v":161.5},{"n":367,"v":161.95},{"n":369,"v":162.12},{"n":371,"v":162.15},{"n":373,"v":162.0},{"n":375,"v":161.75},{"n":376,"v":161.57},{"n":377,"v":161.01},{"n":380,"v":160.99},{"n":382,"v":160.97},{"n":383,"v":160.91},{"n":385,"v":160.97},{"n":386,"v":160.99},{"n":387,"v":161.34},{"n":388,"v":161.57},{"n":390,"v":162.1},{"n":392,"v":162.4},{"n":394,"v":162.58},{"n":396,"v":162.62},{"n":399,"v":162.56},{"n":401,"v":162.46},{"n":402.5,"v":162.42},{"n":404,"v":162.25},{"n":406,"v":162.37},{"n":409.5,"v":162.66},{"n":410,"v":162.87},{"n":412,"v":163.21},{"n":413.7,"v":163.69},{"n":416,"v":164.1},{"n":417,"v":164.23},{"n":419,"v":164.38},{"n":423,"v":164.25},{"n":426,"v":164.33},{"n":429,"v":164.46},{"n":431,"v":164.47},{"n":433,"v":164.38},{"n":434.5,"v":164.23},{"n":436,"v":163.92},{"n":438,"v":163.72},{"n":440,"v":163.29},{"n":442,"v":163.14},{"n":443,"v":163.0},{"n":445,"v":163.08},{"n":447.5,"v":163.05},{"n":449,"v":163.02},{"n":450,"v":163.03},{"n":452.5,"v":163.06},{"n":454,"v":162.97},{"n":456,"v":162.87},{"n":457.4,"v":162.95},{"n":458.7,"v":163.09},{"n":461,"v":163.26},{"n":462,"v":163.22},{"n":463,"v":163.16},{"n":465,"v":163.11},{"n":468,"v":163.2},{"n":472,"v":163.2},{"n":474,"v":163.17},{"n":476,"v":163.25},{"n":478,"v":163.22},{"n":479,"v":163.07},{"n":481,"v":162.71},{"n":482,"v":162.76},{"n":484,"v":162.68},{"n":486,"v":162.57},{"n":489.5,"v":162.57},{"n":492,"v":162.48},{"n":493,"v":162.5}],
"middle":[{"n":0,"v":158.41},{"n":3,"v":158.67},{"n":6.6,"v":158.88},{"n":9,"v":159.11},{"n":11.6,"v":159.22},{"n":13.7,"v":159.37},{"n":16,"v":159.49},{"n":18.7,"v":159.69},{"n":20.8,"v":159.85},{"n":23,"v":159.87},{"n":27,"v":160.19},{"n":29,"v":160.36},{"n":32,"v":160.64},{"n":37,"v":161.03},{"n":40,"v":161.21},{"n":44,"v":161.46},{"n":47,"v":161.39},{"n":51,"v":161.72},{"n":56,"v":161.91},{"n":58.7,"v":162.13},{"n":62,"v":162.48},{"n":65,"v":162.83},{"n":68,"v":163.18},{"n":71.8,"v":163.22},{"n":75.6,"v":163.58},{"n":79,"v":163.82},{"n":82,"v":163.96},{"n":84.6,"v":164.07},{"n":87,"v":164.08},{"n":90,"v":164.0},{"n":93.5,"v":163.87},{"n":95.7,"v":163.69},{"n":99,"v":163.17},{"n":102.5,"v":162.7},{"n":105.8,"v":162.42},{"n":108.6,"v":162.4},{"n":111.4,"v":162.49},{"n":115.9,"v":162.73},{"n":120.3,"v":163.0},{"n":124,"v":163.35},{"n":128,"v":163.42},{"n":131.5,"v":163.36},{"n":135.4,"v":163.0},{"n":140.4,"v":162.22},{"n":144.5,"v":161.9},{"n":148,"v":161.87},{"n":150,"v":161.75},{"n":153.7,"v":161.45},{"n":157,"v":161.24},{"n":160.7,"v":161.17},{"n":164,"v":161.01},{"n":166,"v":160.82},{"n":168,"v":160.72},{"n":170,"v":160.67},{"n":173.7,"v":160.69},{"n":177,"v":160.93},{"n":180,"v":161.3},{"n":183,"v":161.75},{"n":188,"v":162.21},{"n":192,"v":162.38},{"n":194.5,"v":162.72},{"n":197,"v":162.85},{"n":199,"v":162.85},{"n":203.7,"v":162.72},{"n":208,"v":162.6},{"n":210.7,"v":162.53},{"n":214,"v":162.29},{"n":218,"v":161.95},{"n":222,"v":161.55},{"n":226.6,"v":161.06},{"n":230,"v":160.52},{"n":232.4,"v":160.34},{"n":234.5,"v":160.21},{"n":237.4,"v":160.1},{"n":241,"v":159.87},{"n":243.7,"v":159.62},{"n":247,"v":159.19},{"n":251,"v":158.94},{"n":253,"v":158.65},{"n":256.6,"v":158.07},{"n":260,"v":157.61},{"n":263,"v":157.25},{"n":265.7,"v":157.11},{"n":267,"v":157.11},{"n":270.8,"v":157.43},{"n":274,"v":157.9},{"n":276.6,"v":158.33},{"n":279,"v":158.69},{"n":281.6,"v":158.97},{"n":284,"v":159.34},{"n":286,"v":159.64},{"n":288,"v":159.76},{"n":292,"v":159.67},{"n":294.5,"v":159.44},{"n":296.6,"v":159.26},{"n":299,"v":159.15},{"n":303,"v":158.85},{"n":305,"v":158.46},{"n":307,"v":158.26},{"n":309.5,"v":158.06},{"n":313,"v":157.86},{"n":315,"v":157.65},{"n":317.4,"v":157.47},{"n":320,"v":157.15},{"n":323.7,"v":156.97},{"n":329.5,"v":156.93},{"n":334,"v":156.69},{"n":336,"v":156.73},{"n":339.5,"v":156.52},{"n":342,"v":156.45},{"n":348,"v":156.39},{"n":350,"v":156.5},{"n":352,"v":156.48},{"n":356,"v":156.53},{"n":358,"v":156.79},{"n":361,"v":157.33},{"n":363,"v":157.79},{"n":365,"v":158.29},{"n":368.7,"v":158.76},{"n":370.8,"v":158.93},{"n":373.7,"v":159.45},{"n":377,"v":159.91},{"n":380,"v":159.93},{"n":383,"v":159.85},{"n":386,"v":159.87},{"n":388.7,"v":160.1},{"n":392,"v":160.47},{"n":395,"v":160.67},{"n":398,"v":160.74},{"n":399,"v":160.77},{"n":401.6,"v":160.99},{"n":403.7,"v":161.26},{"n":406,"v":161.33},{"n":409,"v":161.45},{"n":412,"v":161.6},{"n":414.5,"v":161.98},{"n":417,"v":162.22},{"n":419.5,"v":162.56},{"n":422,"v":162.78},{"n":425.7,"v":162.8},{"n":427.4,"v":162.71},{"n":431.6,"v":162.58},{"n":433.7,"v":162.37},{"n":435.7,"v":162.22},{"n":438.7,"v":162.01},{"n":442.8,"v":161.92},{"n":445.5,"v":161.96},{"n":449,"v":162.06},{"n":453,"v":162.17},{"n":457,"v":162.3},{"n":461,"v":162.4},{"n":463,"v":162.35},{"n":467,"v":162.29},{"n":470,"v":162.24},{"n":474,"v":162.22},{"n":478,"v":162.08},{"n":479.5,"v":161.98},{"n":481,"v":161.87},{"n":482.4,"v":161.87},{"n":485.3,"v":161.71},{"n":489.5,"v":161.67},{"n":492,"v":161.55},{"n":493,"v":161.5}],
"lower":[{"n":0.4,"v":157.58},{"n":4,"v":157.58},{"n":7.6,"v":157.87},{"n":11.2,"v":157.95},{"n":14.8,"v":158.24},{"n":17.8,"v":158.39},{"n":19.5,"v":158.99},{"n":20.8,"v":159.27},{"n":23,"v":159.33},{"n":25,"v":159.15},{"n":28,"v":158.98},{"n":30,"v":158.94},{"n":32,"v":158.99},{"n":34,"v":158.98},{"n":36,"v":159.16},{"n":38,"v":159.38},{"n":39.5,"v":159.55},{"n":42,"v":160.19},{"n":44,"v":160.7},{"n":45.7,"v":160.49},{"n":47.4,"v":160.29},{"n":49.5,"v":159.97},{"n":53,"v":159.87},{"n":56,"v":159.85},{"n":58.7,"v":159.97},{"n":61,"v":160.29},{"n":63.7,"v":160.68},{"n":65,"v":161.03},{"n":66.6,"v":161.81},{"n":67.4,"v":162.51},{"n":68,"v":162.7},{"n":72,"v":162.65},{"n":75,"v":162.54},{"n":77.4,"v":162.69},{"n":80,"v":162.7},{"n":83,"v":162.88},{"n":87,"v":162.99},{"n":92,"v":162.56},{"n":95,"v":162.24},{"n":96.6,"v":161.8},{"n":98,"v":161.45},{"n":100.8,"v":161.03},{"n":103,"v":160.9},{"n":104.5,"v":161.03},{"n":105,"v":161.15},{"n":107.5,"v":161.2},{"n":110,"v":161.1},{"n":112.4,"v":160.9},{"n":116,"v":160.77},{"n":117.8,"v":160.9},{"n":120,"v":161.27},{"n":123,"v":161.98},{"n":125.7,"v":162.44},{"n":128,"v":162.46},{"n":131.6,"v":162.28},{"n":133,"v":162.25},{"n":134.5,"v":161.8},{"n":136,"v":161.36},{"n":137.4,"v":160.96},{"n":138.6,"v":160.57},{"n":140,"v":160.29},{"n":143,"v":160.08},{"n":144.5,"v":160.12},{"n":149.5,"v":160.15},{"n":151,"v":160.18},{"n":153,"v":160.13},{"n":155,"v":159.85},{"n":158,"v":159.48},{"n":163,"v":159.09},{"n":166,"v":158.97},{"n":168,"v":159.22},{"n":169,"v":159.35},{"n":170,"v":159.35},{"n":171,"v":159.3},{"n":172,"v":159.34},{"n":174,"v":159.33},{"n":175,"v":159.4},{"n":176,"v":159.36},{"n":178,"v":159.41},{"n":181,"v":159.85},{"n":183,"v":159.98},{"n":185,"v":160.3},{"n":187,"v":160.78},{"n":189,"v":161.1},{"n":192,"v":161.17},{"n":193,"v":161.26},{"n":195.5,"v":161.75},{"n":197,"v":161.93},{"n":199,"v":161.93},{"n":201,"v":161.77},{"n":203,"v":161.73},{"n":205,"v":161.6},{"n":208,"v":161.51},{"n":209.5,"v":161.34},{"n":211,"v":161.15},{"n":212.4,"v":161.06},{"n":216.6,"v":160.77},{"n":219,"v":160.41},{"n":221,"v":160.09},{"n":223,"v":159.94},{"n":225,"v":159.96},{"n":226,"v":159.62},{"n":228,"v":158.94},{"n":229.5,"v":158.61},{"n":233,"v":158.59},{"n":234.5,"v":158.67},{"n":237,"v":158.67},{"n":240.3,"v":158.4},{"n":243,"v":158.18},{"n":244,"v":157.95},{"n":246,"v":157.86},{"n":247.4,"v":157.46},{"n":251,"v":156.75},{"n":253,"v":156.5},{"n":254.5,"v":156.1},{"n":257,"v":155.96},{"n":258,"v":156.05},{"n":261,"v":155.9},{"n":262.4,"v":155.96},{"n":263,"v":155.95},{"n":265.7,"v":156.13},{"n":267,"v":156.14},{"n":269,"v":155.67},{"n":271,"v":155.42},{"n":273,"v":155.0},{"n":274.5,"v":154.93},{"n":276,"v":155.05},{"n":278,"v":155.42},{"n":281.6,"v":156.21},{"n":283,"v":156.93},{"n":285,"v":157.61},{"n":286.6,"v":158.3},{"n":288,"v":158.63},{"n":290,"v":158.53},{"n":292,"v":158.34},{"n":293,"v":158.31},{"n":295,"v":158.18},{"n":297,"v":158.26},{"n":299,"v":158.2},{"n":301.6,"v":157.94},{"n":303,"v":157.72},{"n":304,"v":157.17},{"n":307,"v":156.74},{"n":309,"v":156.48},{"n":313,"v":156.38},{"n":315,"v":155.99},{"n":316,"v":155.93},{"n":318,"v":155.91},{"n":320.3,"v":155.99},{"n":323.7,"v":156.11},{"n":326.6,"v":156.07},{"n":330,"v":156.06},{"n":332.4,"v":156.13},{"n":334.5,"v":156.22},{"n":336,"v":156.3},{"n":338,"v":156.1},{"n":340,"v":155.71},{"n":341,"v":155.48},{"n":343.7,"v":155.47},{"n":348,"v":155.45},{"n":350,"v":155.23},{"n":352.4,"v":155.21},{"n":356,"v":155.21},{"n":358,"v":154.85},{"n":360,"v":154.6},{"n":362,"v":154.58},{"n":364,"v":154.72},{"n":366,"v":154.98},{"n":369,"v":155.53},{"n":370.8,"v":155.71},{"n":371.6,"v":156.02},{"n":372.8,"v":156.56},{"n":374.5,"v":157.14},{"n":375.3,"v":157.72},{"n":376,"v":158.29},{"n":377,"v":158.81},{"n":378,"v":158.81},{"n":380,"v":158.9},{"n":382,"v":158.81},{"n":385.3,"v":158.75},{"n":388,"v":158.6},{"n":391,"v":158.47},{"n":395,"v":158.73},{"n":398,"v":158.85},{"n":400,"v":159.18},{"n":403,"v":160.23},{"n":405,"v":160.34},{"n":408.5,"v":160.28},{"n":413,"v":160.01},{"n":416.4,"v":159.84},{"n":418.6,"v":160.45},{"n":420.7,"v":160.89},{"n":422,"v":161.26},{"n":423,"v":161.33},{"n":424,"v":161.31},{"n":425,"v":161.38},{"n":426,"v":161.3},{"n":427.4,"v":161.06},{"n":428.7,"v":160.92},{"n":432,"v":160.72},{"n":433,"v":160.55},{"n":435,"v":160.4},{"n":437,"v":160.42},{"n":438.7,"v":160.55},{"n":442.4,"v":160.78},{"n":443,"v":160.84},{"n":445.7,"v":160.83},{"n":447.4,"v":160.99},{"n":449,"v":161.11},{"n":450,"v":161.21},{"n":452,"v":161.25},{"n":453,"v":161.24},{"n":454,"v":161.43},{"n":456,"v":161.61},{"n":457,"v":161.61},{"n":459,"v":161.55},{"n":462,"v":161.55},{"n":463.7,"v":161.56},{"n":465,"v":161.54},{"n":466.6,"v":161.47},{"n":468,"v":161.33},{"n":469,"v":161.31},{"n":472,"v":161.3},{"n":474,"v":161.25},{"n":475.3,"v":161.09},{"n":478,"v":160.95},{"n":479,"v":160.97},{"n":481,"v":161.03},{"n":483,"v":160.97},{"n":485,"v":160.82},{"n":487,"v":160.82},{"n":489.5,"v":160.78},{"n":491.6,"v":160.68},{"n":493,"v":160.49}],
"prices":[{"p":160.323,"t":"160.323","k":"bid"},{"p":160.936,"t":"160.936","k":"ask"}]},
"layer":[
{"data":{"name":"candles"},"mark":{"type":"rule","strokeWidth":1},"encoding":{"x":{"field":"n","type":"quantitative","scale":{"domain":[-0.25,550.75],"nice":false,"zero":false},"axis":{"orient":"bottom","values":[0,16,32,48,64,80,96,112,128,144,160,176,192,208,224,240,256,272,288,304,320,336,352,368,384,400,416,432,448,464,480],"tickCount":60,"labelAlign":"left","labelPadding":4,"labelOffset":-1.5,"labelOverlap":false,"labelExpr":"['9 Dec 2024','12 Dec 00:00','16 Dec 16:00','19 Dec 08:00','24 Dec 00:00','27 Dec 16:00','2 Jan 08:00','7 Jan 00:00','9 Jan 16:00','14 Jan 08:00','17 Jan 00:00','21 Jan 16:00','24 Jan 08:00','29 Jan 00:00','31 Jan 16:00','5 Feb 08:00','10 Feb 00:00','12 Feb 16:00','17 Feb 08:00','20 Feb 00:00','24 Feb 16:00','27 Feb 08:00','4 Mar 00:00','6 Mar 16:00','11 Mar 08:00','14 Mar 00:00','18 Mar 16:00','21 Mar 08:00','26 Mar 00:00','28 Mar 16:00','2 Apr 08:00'][datum.value/16]"}},"y":{"field":"l","type":"quantitative","scale":{"domain":[154.554,165.42],"nice":false,"zero":false},"axis":{"orient":"right","format":".3f","labelPadding":3,"labelOverlap":false,"tickCount":60,"values":[165.4,165.07,164.73,164.39,164.05,163.71,163.37,163.03,162.69,162.36,162.02,161.68,161.34,161.0,160.66,159.99,159.65,159.31,158.97,158.63,158.29,157.95,157.61,157.27,156.94,156.6,156.26,155.92,155.58,155.24,154.9,154.57]}},"y2":{"field":"h"},"color":{"condition":{"test":"datum.c>=datum.o","value":"#00B0FF"},"value":"#E9967A"}}},
{"data":{"name":"candles"},"mark":{"type":"rule","strokeWidth":3},"encoding":{"x":{"field":"n","type":"quantitative"},"y":{"field":"o","type":"quantitative"},"y2":{"field":"c"},"color":{"condition":{"test":"datum.c>=datum.o","value":"#00B0FF"},"value":"#E9967A"}}},
{"data":{"name":"upper"},"mark":{"type":"line","color":"#008000","strokeWidth":1.2},"encoding":{"x":{"field":"n","type":"quantitative"},"y":{"field":"v","type":"quantitative"}}},
{"data":{"name":"middle"},"mark":{"type":"line","color":"#008000","strokeWidth":1.2},"encoding":{"x":{"field":"n","type":"quantitative"},"y":{"field":"v","type":"quantitative"}}},
{"data":{"name":"lower"},"mark":{"type":"line","color":"#008000","strokeWidth":1.2},"encoding":{"x":{"field":"n","type":"quantitative"},"y":{"field":"v","type":"quantitative"}}},
{"data":{"name":"prices"},"mark":{"type":"rule"},"encoding":{"x":{"datum":-0.25},"x2":{"datum":550.75},"y":{"field":"p","type":"quantitative"},"color":{"condition":{"test":"datum.k=='bid'","value":"#3C4A4A"},"value":"#FF0000"},"strokeWidth":{"condition":{"test":"datum.k=='bid'","value":1},"value":2}}},
{"data":{"name":"prices"},"mark":{"type":"bar","orient":"horizontal","size":11},"encoding":{"x":{"datum":551.2},"x2":{"datum":561.4},"y":{"field":"p","type":"quantitative"},"color":{"condition":{"test":"datum.k=='bid'","value":"#FFFFFF"},"value":"#FF0000"}}},
{"data":{"name":"prices"},"mark":{"type":"text","align":"left","baseline":"middle","font":"Liberation Sans","fontSize":9.3,"color":"#000000"},"encoding":{"x":{"datum":551.7},"y":{"field":"p","type":"quantitative"},"text":{"field":"t"}}},
{"data":{"values":[{"t":"EURJPY\u00a0\u00a0\u00a04時間足"}]},"mark":{"type":"text","align":"left","baseline":"alphabetic","font":"Noto Sans CJK JP","fontWeight":"bold","fontSize":44,"color":"#FFFFFF"},"encoding":{"x":{"datum":56.9},"y":{"datum":164.755},"text":{"field":"t"}}},
{"data":{"values":[{"t":"EURJPY,H4\u00a0\u00a0160.999 161.023 160.203 160.323"}]},"mark":{"type":"text","align":"left","baseline":"middle","font":"Liberation Sans","fontSize":9.3,"color":"#FFFFFF"},"encoding":{"x":{"datum":3.6},"y":{"datum":165.333},"text":{"field":"t"}}},
{"data":{"values":[{"a":1}]},"mark":{"type":"point","shape":"triangle-down","filled":true,"size":22,"color":"#FFFFFF","opacity":1},"encoding":{"x":{"datum":1.5},"y":{"datum":165.333}}},
{"data":{"values":[{"a":1}]},"mark":{"type":"point","shape":"triangle-down","filled":true,"size":22,"color":"#6E6E6E","opacity":1},"encoding":{"x":{"datum":495},"y":{"datum":165.385}}},
{"data":{"values":[{"a":1}]},"mark":{"type":"rule","color":"#A0A0A0","strokeWidth":3},"encoding":{"x":{"datum":-1.375},"x2":{"datum":562.4},"y":{"datum":165.446}}}
]}
